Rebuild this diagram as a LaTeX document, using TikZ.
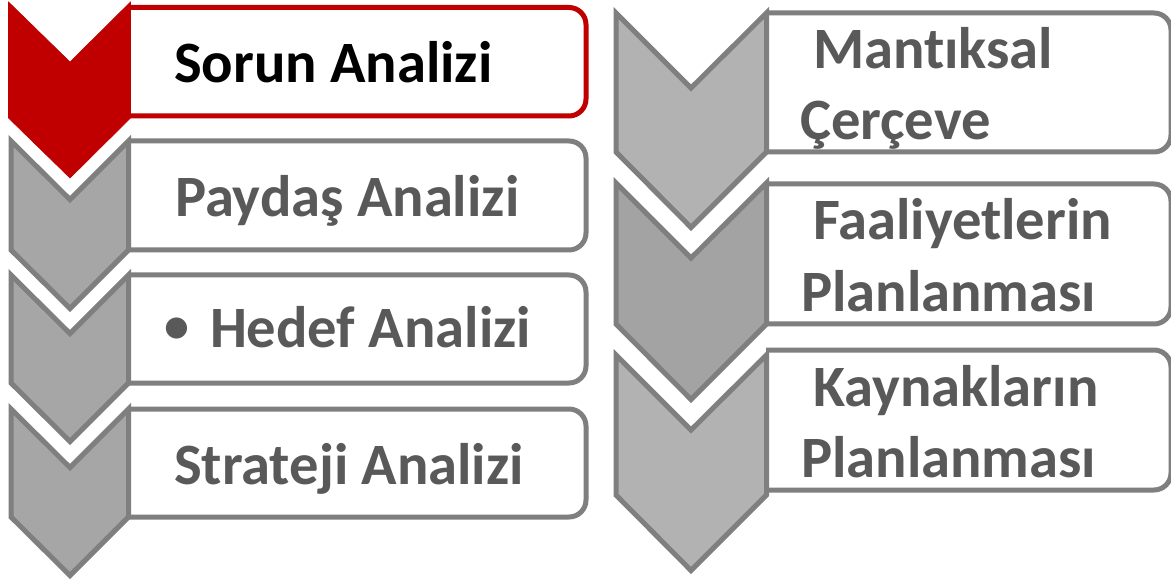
\documentclass[tikz,border=0pt]{standalone}
\usepackage{fontspec}
\setmainfont[Ligatures=NoCommon]{Carlito}
\definecolor{edgegrey}{HTML}{7F7F7F}
\definecolor{fillA}{HTML}{A6A6A6}
\definecolor{fillB}{HTML}{B2B2B2}
\definecolor{fillC}{HTML}{A3A3A3}
\definecolor{labelgrey}{HTML}{595959}
\definecolor{accent}{HTML}{C00000}
\tikzset{
  x=1pt,y=-1pt,
  panel/.style={draw=edgegrey,line width=5pt,fill=white,rounded corners=17pt},
  panelred/.style={panel,draw=accent},
  chev/.style={draw=edgegrey,line width=5pt,miter limit=10,line join=miter},
  lbl/.style={font=\bfseries\fontsize{58.6}{58.6}\selectfont,text=labelgrey,anchor=base west,inner sep=0pt,outer sep=0pt},
}
\newcommand{\chevron}[7]{% xl xr xm ytop ynotch ybot style
  \path[chev,#7] (#1,#4) -- (#3,#5) -- (#2,#4) -- (#2,#6) -- (#3,{#6+#2-#3}) -- (#1,#6) -- cycle;
}
\begin{document}
\begin{tikzpicture}
\useasboundingbox (0,0) rectangle (1171,580);
\fill[white] (0,0) rectangle (1171,580);
\begin{scope}
\clip (0,0) rectangle (1171,580);
% left boxes
\draw[panelred] (128,7.5) -- (586,7.5) -- (586,116) -- (128,116);
\draw[panel] (128,141) -- (586,141) -- (586,250) -- (128,250);
\draw[panel] (128,275) -- (586,275) -- (586,383) -- (128,383);
\draw[panel] (128,409) -- (586,409) -- (586,517) -- (128,517);
% right boxes
\draw[panel] (766,13) -- (1171,13) -- (1171,152) -- (766,152);
\draw[panel] (766,184) -- (1171,184) -- (1171,324) -- (766,324);
\draw[panel] (766,350) -- (1171,350) -- (1171,490) -- (766,490);
\end{scope}
% left chevrons
\path[fill=accent,draw=accent,line width=.6pt,miter limit=10] (8.5,2) -- (70,62) -- (130.5,2) -- (130.5,118) -- (70,178) -- (8.5,118) -- cycle;
\chevron{11}{128.5}{70}{141}{199.5}{250}{fill=fillA}
\chevron{11}{128.5}{70}{275}{333.5}{383}{fill=fillA}
\chevron{11}{128.5}{70}{409}{467.5}{517}{fill=fillA}
% right chevrons
\chevron{616}{766.5}{691}{13}{88}{152}{fill=fillB}
\chevron{616}{766.5}{691}{183}{258}{324}{fill=fillC}
\chevron{616}{766.5}{691}{355}{430}{495}{fill=fillB}
% labels
\node[lbl,text=black] (a) at (174,83) {Sorun Analizi};
\node[lbl] (b) at (175,217) {Paydaş Analizi};
\node[lbl,font=\bfseries\fontsize{50}{50}\selectfont] (c0) at (164,342) {•};
\node[lbl] (c) at (210,347.5) {Hedef Analizi};
\node[lbl] (d) at (174,484.5) {Strateji Analizi};
\node[lbl] (e) at (813,68.5) {Mantıksal};
\node[lbl] (f) at (800,139.5) {Çerçeve};
\node[lbl] (g) at (813,240) {Faaliyetlerin};
\node[lbl] (h) at (801,312) {Planlanması};
\node[lbl] (i) at (813,406.5) {Kaynakların};
\node[lbl] (j) at (801,477) {Planlanması};
\end{tikzpicture}
\end{document}
